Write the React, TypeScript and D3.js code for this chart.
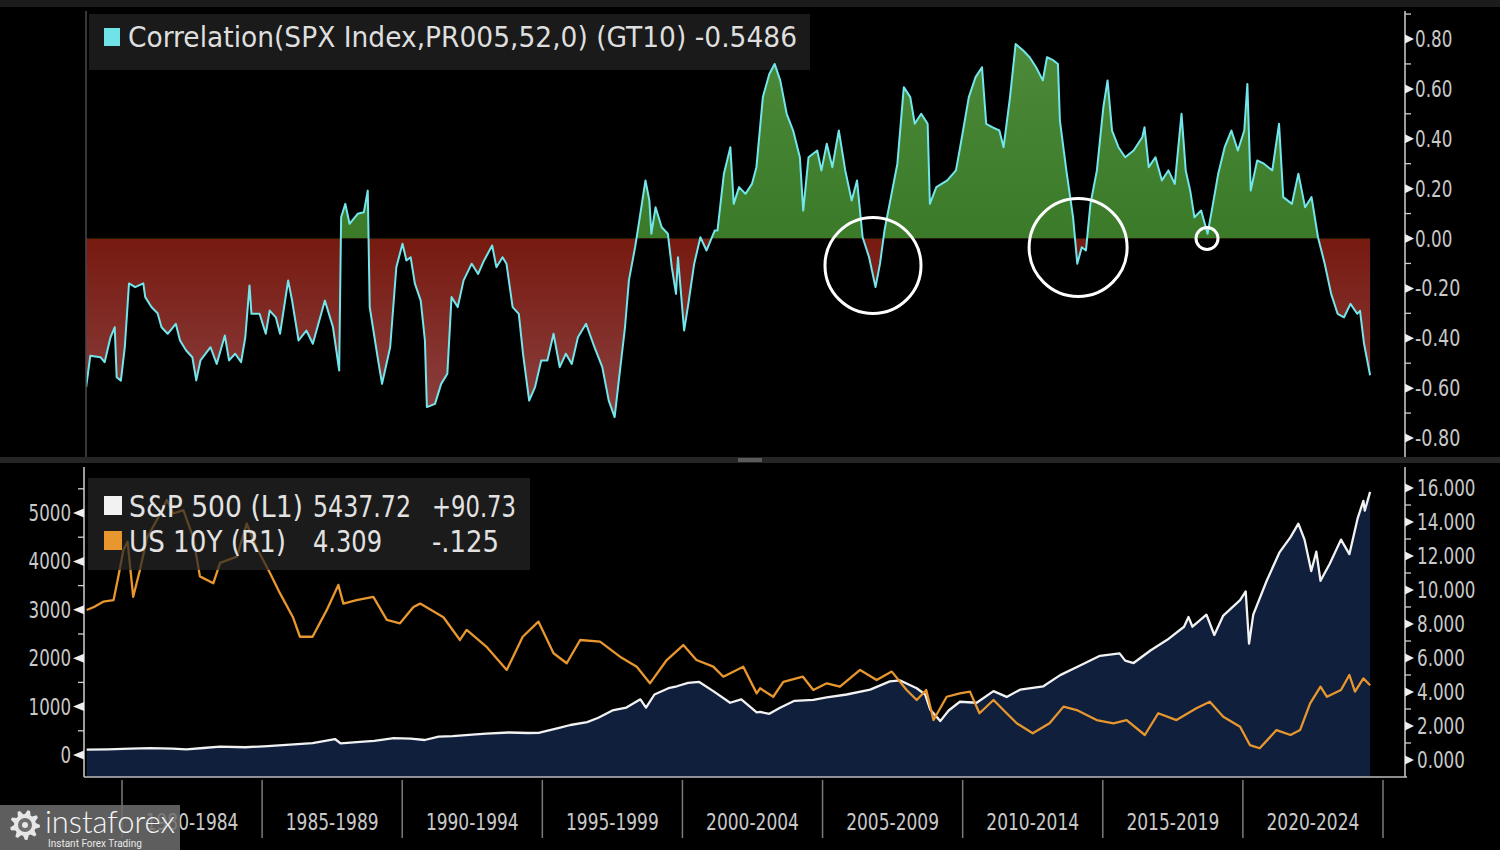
import React, { useEffect } from 'react';
import * as d3 from 'd3';

// ---------------- DATA ----------------
const corrYears = [
  1978.72, 1978.87, 1979.23, 1979.38, 1979.59, 1979.74, 1979.81, 1979.96, 1980.10, 1980.25,
  1980.47, 1980.76, 1980.83, 1981.05, 1981.27, 1981.41, 1981.63, 1981.92, 1982.07, 1982.29,
  1982.51, 1982.65, 1982.80, 1983.16, 1983.38, 1983.67, 1983.82, 1984.04, 1984.25, 1984.40,
  1984.55, 1984.62, 1984.91, 1985.13, 1985.27, 1985.49, 1985.64, 1985.93, 1986.07, 1986.30,
  1986.58, 1986.81, 1987.24, 1987.53, 1987.75, 1987.82, 1987.97, 1988.12, 1988.41, 1988.63,
  1988.77, 1988.84, 1988.99, 1989.14, 1989.28, 1989.57, 1989.79, 1990.01, 1990.15, 1990.30,
  1990.45, 1990.66, 1990.81, 1990.88, 1991.17, 1991.39, 1991.61, 1991.76, 1991.98, 1992.19,
  1992.48, 1992.71, 1992.92, 1993.21, 1993.36, 1993.58, 1993.72, 1993.94, 1994.16, 1994.31,
  1994.53, 1994.74, 1994.96, 1995.18, 1995.40, 1995.62, 1995.84, 1996.05, 1996.27, 1996.56,
  1996.86, 1997.14, 1997.37, 1997.58, 1997.73, 1997.95, 1998.09, 1998.31, 1998.46, 1998.68,
  1998.82, 1998.89, 1999.04, 1999.26, 1999.48, 1999.62, 1999.77, 1999.84, 2000.06, 2000.21,
  2000.42, 2000.64, 2000.86, 2001.15, 2001.25, 2001.48, 2001.71, 2001.83, 2002.02, 2002.25,
  2002.48, 2002.64, 2002.87, 2003.10, 2003.29, 2003.49, 2003.72, 2003.95, 2004.19, 2004.31,
  2004.50, 2004.81, 2004.96, 2005.15, 2005.35, 2005.58, 2005.81, 2006.04, 2006.23, 2006.43,
  2006.66, 2006.89, 2007.05, 2007.21, 2007.44, 2007.67, 2007.90, 2008.13, 2008.29, 2008.52,
  2008.75, 2008.83, 2009.06, 2009.45, 2009.76, 2009.91, 2010.22, 2010.46, 2010.69, 2010.84,
  2011.07, 2011.31, 2011.46, 2011.69, 2011.89, 2012.16, 2012.39, 2012.62, 2012.86, 2013.01,
  2013.24, 2013.40, 2013.47, 2013.70, 2013.94, 2014.09, 2014.25, 2014.40, 2014.56, 2014.79,
  2015.02, 2015.17, 2015.33, 2015.56, 2015.80, 2016.10, 2016.41, 2016.49, 2016.64, 2016.88,
  2017.11, 2017.34, 2017.57, 2017.81, 2017.96, 2018.12, 2018.27, 2018.51, 2018.74, 2018.89,
  2019.12, 2019.35, 2019.59, 2019.82, 2020.05, 2020.16, 2020.28, 2020.51, 2020.75, 2021.05,
  2021.29, 2021.44, 2021.75, 2021.98, 2022.22, 2022.45, 2022.68, 2022.92, 2023.15, 2023.38,
  2023.61, 2023.84, 2024.08, 2024.18, 2024.32, 2024.54,
];
const corrValues = [
  -0.596, -0.47, -0.476, -0.496, -0.396, -0.356, -0.556, -0.57, -0.436, -0.18,
  -0.195, -0.18, -0.235, -0.275, -0.30, -0.356, -0.382, -0.342, -0.409, -0.449,
  -0.476, -0.569, -0.489, -0.436, -0.503, -0.389, -0.489, -0.462, -0.496, -0.396,
  -0.188, -0.302, -0.302, -0.382, -0.289, -0.316, -0.382, -0.168, -0.249, -0.409,
  -0.369, -0.422, -0.249, -0.356, -0.529, 0.085, 0.139, 0.059, 0.099, 0.105,
  0.192, -0.275, -0.382, -0.489, -0.583, -0.436, -0.115, -0.021, -0.088, -0.075,
  -0.18, -0.249, -0.409, -0.676, -0.663, -0.583, -0.542, -0.235, -0.275, -0.168,
  -0.101, -0.142, -0.088, -0.028, -0.115, -0.075, -0.101, -0.275, -0.302, -0.462,
  -0.65, -0.596, -0.489, -0.489, -0.382, -0.516, -0.462, -0.503, -0.396, -0.342,
  -0.436, -0.516, -0.65, -0.716, -0.569, -0.356, -0.168, -0.035, 0.072, 0.233,
  0.152, 0.019, 0.125, 0.045, 0.019, -0.115, -0.222, -0.075, -0.369, -0.262,
  -0.101, 0.005, -0.048, 0.032, 0.032, 0.26, 0.366, 0.139, 0.206, 0.179,
  0.219, 0.286, 0.567, 0.66, 0.70, 0.634, 0.50, 0.433, 0.326, 0.112,
  0.326, 0.353, 0.273, 0.38, 0.286, 0.433, 0.273, 0.152, 0.233, 0.005,
  -0.075, -0.195, -0.101, 0.032, 0.166, 0.30, 0.607, 0.567, 0.46, 0.50,
  0.46, 0.139, 0.206, 0.233, 0.273, 0.366, 0.567, 0.647, 0.687, 0.46,
  0.446, 0.433, 0.366, 0.567, 0.78, 0.754, 0.727, 0.687, 0.634, 0.727,
  0.714, 0.70, 0.473, 0.273, 0.085, -0.101, -0.035, -0.048, 0.139, 0.273,
  0.526, 0.634, 0.433, 0.366, 0.326, 0.353, 0.406, 0.446, 0.286, 0.326,
  0.233, 0.273, 0.219, 0.50, 0.273, 0.192, 0.085, 0.112, 0.019, 0.112,
  0.26, 0.366, 0.433, 0.353, 0.433, 0.62, 0.192, 0.313, 0.30, 0.273,
  0.46, 0.166, 0.139, 0.26, 0.125, 0.166, 0.005, -0.101, -0.222, -0.302,
  -0.316, -0.262, -0.302, -0.29, -0.42, -0.5486,
];

const spxYears = [
  1978.74, 1979.5, 1980.3, 1981.0, 1981.8, 1982.3, 1982.9, 1983.5, 1984.4, 1985.2,
  1986.0, 1986.8, 1987.6, 1987.8, 1988.5, 1989.0, 1989.7, 1990.3, 1990.8, 1991.3,
  1991.8, 1992.5, 1993.0, 1993.8, 1994.5, 1994.9, 1995.6, 1996.0, 1996.6, 1997.0,
  1997.5, 1998.0, 1998.5, 1998.7, 1999.0, 1999.5, 1999.8, 2000.2, 2000.6, 2001.1,
  2001.7, 2002.1, 2002.65, 2002.77, 2003.1, 2003.5, 2004.0, 2004.67, 2005.15, 2005.86,
  2006.7, 2007.4, 2007.77, 2008.36, 2008.66, 2008.84, 2009.02, 2009.2, 2009.5, 2009.9,
  2010.5, 2011.1, 2011.57, 2012.05, 2012.88, 2013.48, 2014.19, 2014.9, 2015.6, 2015.8,
  2016.1, 2016.7, 2017.3, 2017.9, 2018.06, 2018.2, 2018.7, 2018.98, 2019.3, 2019.9,
  2020.1, 2020.22, 2020.37, 2020.85, 2021.3, 2021.7, 2021.98, 2022.2, 2022.44, 2022.62,
  2022.77, 2023.1, 2023.5, 2023.8, 2024.1, 2024.3, 2024.35, 2024.54,
];
const spxValues = [
  110, 115, 130, 140, 130, 115, 145, 175, 160, 185,
  215, 245, 330, 240, 270, 290, 350, 340, 310, 380,
  390, 420, 440, 465, 455, 460, 560, 620, 680, 770,
  920, 980, 1150, 980, 1250, 1380, 1420, 1490, 1510, 1320,
  1080, 1150, 880, 890, 850, 980, 1120, 1140, 1190, 1250,
  1350, 1520, 1540, 1380, 1250, 940, 820, 700, 920, 1100,
  1080, 1320, 1200, 1350, 1420, 1650, 1850, 2050, 2100, 1950,
  1900, 2160, 2380, 2650, 2850, 2650, 2900, 2480, 2880, 3200,
  3380, 2300, 2900, 3600, 4180, 4500, 4780, 4450, 3800, 4200,
  3600, 3950, 4450, 4150, 4900, 5250, 5050, 5437,
];

const tnxYears = [
  1978.74, 1979.0, 1979.33, 1979.7, 1979.87, 1980.05, 1980.2, 1980.4, 1980.64, 1980.9,
  1981.24, 1981.6, 1981.83, 1982.19, 1982.54, 1982.78, 1983.26, 1983.5, 1984.1, 1984.45,
  1984.8, 1985.28, 1985.64, 1986.1, 1986.35, 1986.8, 1987.3, 1987.72, 1987.9, 1988.37,
  1988.97, 1989.45, 1989.92, 1990.4, 1990.64, 1991.47, 1992.06, 1992.3, 1993.0, 1993.73,
  1994.3, 1994.86, 1995.4, 1995.87, 1996.35, 1997.06, 1997.77, 1998.37, 1998.84, 1999.44,
  2000.03, 2000.5, 2001.1, 2001.46, 2002.17, 2002.65, 2002.77, 2003.24, 2003.6, 2004.3,
  2004.67, 2005.15, 2005.62, 2006.34, 2006.93, 2007.47, 2008.0, 2008.36, 2008.7, 2008.96,
  2009.43, 2009.9, 2010.26, 2010.6, 2011.1, 2011.57, 2011.93, 2012.5, 2013.1, 2013.6,
  2014.07, 2014.78, 2015.38, 2015.85, 2016.5, 2016.98, 2017.63, 2018.34, 2018.82, 2019.3,
  2019.9, 2020.25, 2020.6, 2021.2, 2021.7, 2022.04, 2022.4, 2022.77, 2023.0, 2023.5,
  2023.8, 2024.0, 2024.3, 2024.54,
];
const tnxValues = [
  8.82, 9.0, 9.31, 9.41, 10.8, 12.35, 12.84, 9.6, 11.18, 13.1,
  14.1, 15.3, 14.5, 14.7, 13.1, 10.8, 10.4, 11.6, 11.96, 13.9,
  12.5, 11.0, 9.8, 8.4, 7.25, 7.25, 8.8, 10.3, 9.2, 9.4,
  9.6, 8.24, 8.04, 9.0, 9.2, 8.4, 7.06, 7.65, 6.67, 5.3,
  7.25, 8.14, 6.28, 5.69, 7.06, 6.96, 6.08, 5.49, 4.51, 5.88,
  6.76, 5.88, 5.49, 4.9, 5.49, 3.92, 4.22, 3.72, 4.6, 4.9,
  4.12, 4.51, 4.31, 5.3, 4.7, 5.2, 4.12, 3.53, 4.12, 2.35,
  3.72, 3.92, 4.02, 2.75, 3.53, 2.75, 2.16, 1.57, 2.16, 3.14,
  2.94, 2.35, 2.16, 2.35, 1.47, 2.75, 2.35, 3.04, 3.43, 2.55,
  1.96, 0.88, 0.69, 1.76, 1.47, 1.76, 3.33, 4.31, 3.72, 4.12,
  5.0, 4.02, 4.8, 4.4,
];

const corrTicks = [0.8, 0.6, 0.4, 0.2, 0, -0.2, -0.4, -0.6, -0.8];
const corrMinor = [0.9, 0.7, 0.5, 0.3, 0.1, -0.1, -0.3, -0.5, -0.7];
const spxTicks = [0, 1000, 2000, 3000, 4000, 5000];
const spxMinor = [500, 1500, 2500, 3500, 4500, 5500];
const tnxTicks = [0, 2, 4, 6, 8, 10, 12, 14, 16];
const tnxMinor = [1, 3, 5, 7, 9, 11, 13, 15];
const periodStarts = [1980, 1985, 1990, 1995, 2000, 2005, 2010, 2015, 2020, 2025];
const periodLabels = ['1980-1984', '1985-1989', '1990-1994', '1995-1999', '2000-2004', '2005-2009', '2010-2014', '2015-2019', '2020-2024'];

// annotation circles (year, value, radius px)
const circleYears = [2006.8, 2014.12, 2018.72];
const circleValues = [-0.108, -0.036, 0];
const circleRadii = [48, 49, 11];

// ---------------- LAYOUT ----------------
const W = 1500, H = 850;
const TOP = { left: 86, right: 1405, top: 8, bottom: 457 };
const BOT = { left: 84, right: 1405, top: 465, bottom: 777 };
const FONT = "'Liberation Sans Narrow', 'Arial Narrow', 'DejaVu Sans Condensed', sans-serif";
const LABEL = '#c9c9c9';

const x = d3.scaleLinear().domain([1980, 2025]).range([122, 1383]);
const yCorr = d3.scaleLinear().domain([-0.8, 0.8]).range([438, 39]);
const ySpx = d3.scaleLinear().domain([0, 5000]).range([755, 513]);
const yTnx = d3.scaleLinear().domain([0, 16]).range([760, 488]);

const corrData = corrYears.map((t, i) => [t, corrValues[i]] as [number, number]);
const spxData = spxYears.map((t, i) => [t, spxValues[i]] as [number, number]);
const tnxData = tnxYears.map((t, i) => [t, tnxValues[i]] as [number, number]);

const fmt2 = d3.format('.2f');
const fmt3 = d3.format('.3f');

// narrow-font width estimate for tick labels
function labelWidth(s: string) {
  let w = 0;
  for (const c of s) w += c === '.' ? 5.5 : c === '-' ? 8 : 10.6;
  return w;
}

function gearPath(cx: number, cy: number, rIn: number, rOut: number, teeth: number) {
  const pts: [number, number][] = [];
  const n = teeth * 4;
  for (let i = 0; i < n; i++) {
    const a = (i / n) * Math.PI * 2;
    const r = (i % 4 === 0 || i % 4 === 1) ? rOut : rIn;
    pts.push([cx + r * Math.cos(a), cy + r * Math.sin(a)]);
  }
  return d3.line()(pts) + 'Z';
}

export default function App() {
  useEffect(() => {
    document.body.style.margin = '0';
    document.body.style.background = '#000';
  }, []);

  const zeroY = yCorr(0);
  const corrArea = d3.area<[number, number]>().x(d => x(d[0])).y0(zeroY).y1(d => yCorr(d[1]));
  const corrLine = d3.line<[number, number]>().x(d => x(d[0])).y(d => yCorr(d[1]));
  const spxArea = d3.area<[number, number]>().x(d => x(d[0])).y0(BOT.bottom).y1(d => ySpx(d[1]));
  const spxLine = d3.line<[number, number]>().x(d => x(d[0])).y(d => ySpx(d[1]));
  const tnxLine = d3.line<[number, number]>().x(d => x(d[0])).y(d => yTnx(d[1]));

  const triR = (yy: number, x0: number) => `M${x0},${yy - 4.5}L${x0 + 9},${yy}L${x0},${yy + 4.5}Z`;
  const triL = (yy: number, x0: number) => `M${x0},${yy - 4.5}L${x0 - 11},${yy}L${x0},${yy + 4.5}Z`;

  return (
    <svg width={W} height={H} style={{ position: 'absolute', left: 0, top: 0, background: '#000' }} fontFamily={FONT}>
      <defs>
        <clipPath id="clipPos"><rect x={TOP.left} y={TOP.top} width={TOP.right - TOP.left} height={zeroY - TOP.top} /></clipPath>
        <clipPath id="clipNeg"><rect x={TOP.left} y={zeroY} width={TOP.right - TOP.left} height={TOP.bottom - zeroY} /></clipPath>
        <clipPath id="clipTop"><rect x={TOP.left} y={TOP.top} width={TOP.right - TOP.left} height={TOP.bottom - TOP.top} /></clipPath>
        <clipPath id="clipBot"><rect x={BOT.left} y={BOT.top} width={BOT.right - BOT.left} height={BOT.bottom - BOT.top} /></clipPath>
        <linearGradient id="redGrad" gradientUnits="userSpaceOnUse" x1="0" y1={zeroY} x2="0" y2={yCorr(-0.75)}>
          <stop offset="0" stopColor="#771a10" />
          <stop offset="1" stopColor="#8c4242" />
        </linearGradient>
        <linearGradient id="greenGrad" gradientUnits="userSpaceOnUse" x1="0" y1={yCorr(0.8)} x2="0" y2={zeroY}>
          <stop offset="0" stopColor="#4d8a3b" />
          <stop offset="1" stopColor="#3a7a28" />
        </linearGradient>
      </defs>

      <rect x={0} y={0} width={W} height={H} fill="#000" />
      <rect x={0} y={0} width={W} height={7} fill="#1c1c1c" />

      {/* ---------- TOP PANEL ---------- */}
      <rect x={89} y={14} width={721} height={56} fill="#1a1a1a" />
      <g clipPath="url(#clipTop)">
        <path d={corrArea(corrData) || ''} fill="url(#greenGrad)" clipPath="url(#clipPos)" />
        <path d={corrArea(corrData) || ''} fill="url(#redGrad)" clipPath="url(#clipNeg)" />
        <path d={corrLine(corrData) || ''} fill="none" stroke="#72e6ec" strokeWidth={2} strokeLinejoin="round" />
      </g>
      {circleYears.map((t, i) => (
        <circle key={i} cx={x(t)} cy={yCorr(circleValues[i])} r={circleRadii[i]} fill="none" stroke="#ffffff" strokeWidth={3} />
      ))}
      <line x1={TOP.left} x2={TOP.left} y1={TOP.top + 3} y2={TOP.bottom} stroke="#4a4a4a" strokeWidth={1.5} />
      <line x1={TOP.right} x2={TOP.right} y1={TOP.top + 3} y2={TOP.bottom} stroke="#d0d0d0" strokeWidth={1.5} />
      {corrMinor.filter(v => yCorr(v) > TOP.top + 3).map(v => (
        <line key={v} x1={TOP.right} x2={TOP.right + 6} y1={yCorr(v)} y2={yCorr(v)} stroke="#d0d0d0" strokeWidth={1.3} />
      ))}
      {corrTicks.map(v => {
        const s = fmt2(v).replace('−', '-');
        return (
          <g key={v}>
            <path d={triR(yCorr(v), TOP.right)} fill="#eeeeee" />
            <text x={TOP.right + 10} y={yCorr(v) + 8} fontSize={23} fill={LABEL} textLength={labelWidth(s)} lengthAdjust="spacingAndGlyphs">{s}</text>
          </g>
        );
      })}
      <rect x={104} y={28} width={16} height={18} fill="#6fe3e8" />
      <text x={128} y={47} fontSize={29} fill="#dedede" textLength={669} lengthAdjust="spacingAndGlyphs">Correlation(SPX Index,PR005,52,0) (GT10) -0.5486</text>

      {/* separator */}
      <rect x={0} y={TOP.bottom} width={W} height={6} fill="#262626" />
      <rect x={738} y={TOP.bottom + 1} width={24} height={4} fill="#5a5a5a" />

      {/* ---------- BOTTOM PANEL ---------- */}
      <g clipPath="url(#clipBot)">
        <path d={spxArea(spxData) || ''} fill="#0f1f3c" />
        <path d={spxLine(spxData) || ''} fill="none" stroke="#f2f2f2" strokeWidth={2.3} strokeLinejoin="round" />
        <path d={tnxLine(tnxData) || ''} fill="none" stroke="#e8962e" strokeWidth={2.3} strokeLinejoin="round" />
      </g>
      <rect x={88} y={478} width={442} height={92} fill="#262626" fillOpacity={0.72} />
      <rect x={104} y={496} width={18} height={19} fill="#f2f2f2" />
      <rect x={104} y={531} width={18} height={19} fill="#e8962e" />
      <g fontSize={30} fill="#e2e2e2">
        <text x={129} y={517} textLength={174} lengthAdjust="spacingAndGlyphs">S&amp;P 500 (L1)</text>
        <text x={313} y={517} textLength={98} lengthAdjust="spacingAndGlyphs">5437.72</text>
        <text x={432} y={517} textLength={84} lengthAdjust="spacingAndGlyphs">+90.73</text>
        <text x={129} y={552} textLength={157} lengthAdjust="spacingAndGlyphs">US 10Y (R1)</text>
        <text x={313} y={552} textLength={69} lengthAdjust="spacingAndGlyphs">4.309</text>
        <text x={432} y={552} textLength={67} lengthAdjust="spacingAndGlyphs">-.125</text>
      </g>

      {/* left axis */}
      <line x1={BOT.left} x2={BOT.left} y1={BOT.top + 2} y2={BOT.bottom} stroke="#d0d0d0" strokeWidth={1.5} />
      {spxMinor.map(v => (
        <line key={v} x1={BOT.left - 6} x2={BOT.left} y1={ySpx(v)} y2={ySpx(v)} stroke="#d0d0d0" strokeWidth={1.3} />
      ))}
      {spxTicks.map(v => {
        const s = String(v);
        return (
          <g key={v}>
            <path d={triL(ySpx(v), BOT.left)} fill="#eeeeee" />
            <text x={71} y={ySpx(v) + 8} fontSize={23} fill={LABEL} textAnchor="end" textLength={labelWidth(s)} lengthAdjust="spacingAndGlyphs">{s}</text>
          </g>
        );
      })}
      {/* right axis */}
      <line x1={BOT.right} x2={BOT.right} y1={BOT.top + 2} y2={BOT.bottom} stroke="#d0d0d0" strokeWidth={1.5} />
      {tnxMinor.map(v => (
        <line key={v} x1={BOT.right} x2={BOT.right + 6} y1={yTnx(v)} y2={yTnx(v)} stroke="#d0d0d0" strokeWidth={1.3} />
      ))}
      {tnxTicks.map(v => {
        const s = fmt3(v);
        return (
          <g key={v}>
            <path d={triR(yTnx(v), BOT.right)} fill="#eeeeee" />
            <text x={BOT.right + 12} y={yTnx(v) + 8} fontSize={23} fill={LABEL} textLength={labelWidth(s)} lengthAdjust="spacingAndGlyphs">{s}</text>
          </g>
        );
      })}
      {/* bottom frame */}
      <line x1={BOT.left} x2={BOT.right + 2} y1={BOT.bottom} y2={BOT.bottom} stroke="#bdbdbd" strokeWidth={1.5} />

      {/* x axis periods */}
      {periodStarts.map(t => (
        <line key={t} x1={x(t)} x2={x(t)} y1={BOT.bottom + 3} y2={838} stroke="#7a7a7a" strokeWidth={1.5} />
      ))}
      {periodLabels.map((lab, i) => (
        <text key={lab} x={(x(periodStarts[i]) + x(periodStarts[i + 1])) / 2} y={830} fontSize={23} fill={LABEL} textAnchor="middle" textLength={labelWidth(lab)} lengthAdjust="spacingAndGlyphs">{lab}</text>
      ))}

      {/* watermark */}
      <rect x={0} y={805} width={180} height={45} fill="#6e6e6e" fillOpacity={0.85} />
      <path d={gearPath(25, 825, 11, 15, 9)} fill="#e6e6e6" />
      <circle cx={25} cy={825} r={7} fill="#6e6e6e" />
      <circle cx={25} cy={825} r={3} fill="#e6e6e6" />
      <text x={45} y={833} fontSize={31} fill="#f4f4f4" fontFamily="Lato, 'Open Sans', sans-serif" fontWeight={300} textLength={130} lengthAdjust="spacingAndGlyphs">instaforex</text>
      <text x={48} y={847} fontSize={10} fill="#e8e8e8" fontFamily="Roboto, 'Noto Sans', sans-serif">Instant Forex Trading</text>
    </svg>
  );
}
